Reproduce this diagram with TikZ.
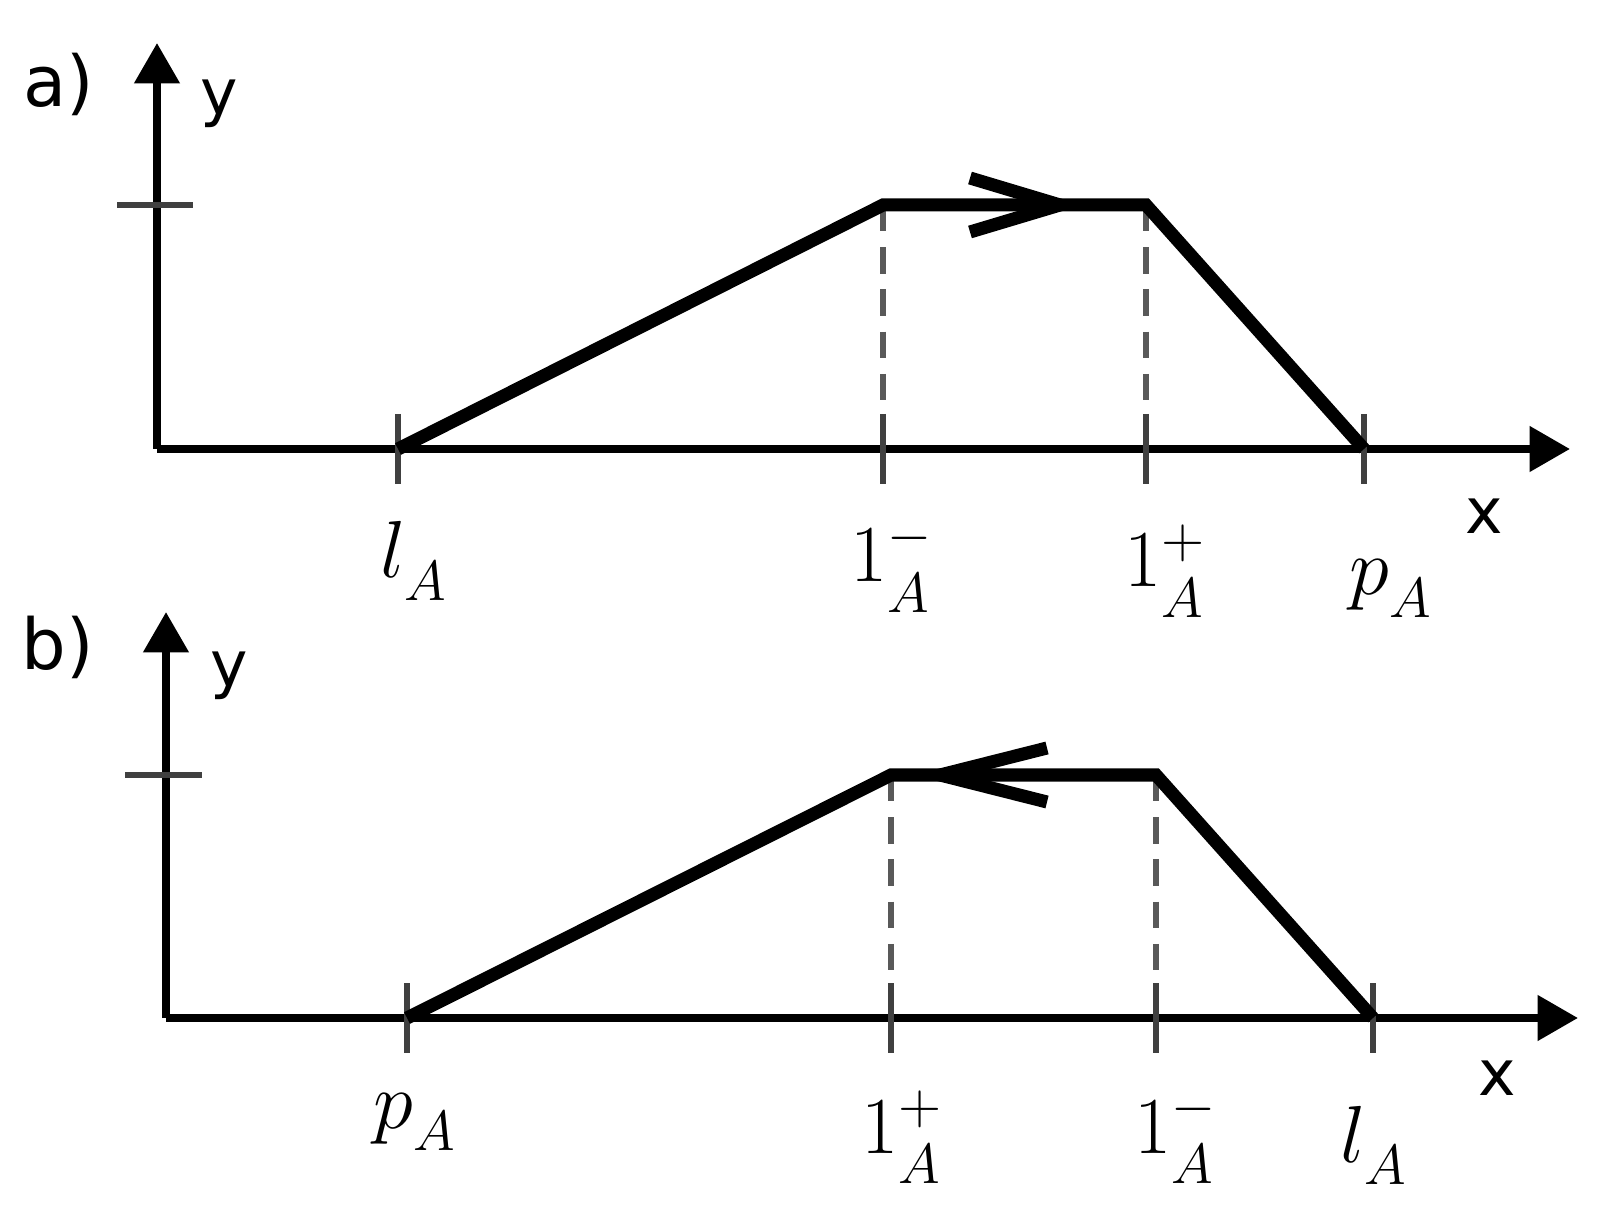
\RequirePackage{fix-cm}
\documentclass[tikz,border=0pt]{standalone}
\usepackage{fontspec}
\newfontfamily\axisfont{DejaVu Sans}
\usetikzlibrary{arrows.meta}

\newcommand{\subA}{_{\raisebox{-3pt}{$\scriptstyle A$}}}

\tikzset{
  axisline/.style={line width=2.3pt, -{Triangle[length=11.5pt, width=12.5pt]}},
  profile/.style={line width=3.7pt, line join=miter},
  tickmark/.style={line width=1.7pt, black!75},
  guide/.style={line width=1.5pt, black!65, dash pattern=on 7.5pt off 4.5pt},
  numlabel/.style={inner sep=0pt, anchor=base, font=\fontsize{23}{23}\selectfont},
  axislabel/.style={inner sep=0pt, anchor=base west, font=\fontsize{18}{18}\selectfont\axisfont},
  tag/.style={inner sep=0pt, anchor=base west, font=\fontsize{20}{20}\selectfont\axisfont},
}

\begin{document}
\begin{tikzpicture}[x=0.01cm, y=-0.01cm]
  \useasboundingbox (0,0) rectangle (1609,1213);

  % --------------------
  % Panel a
  % --------------------
  \coordinate (Oa) at (157,449);
  \coordinate (la) at (398,449);
  \coordinate (ma) at (883,205);
  \coordinate (na) at (1146,205);
  \coordinate (pa) at (1364,449);
  \coordinate (ha) at (1060,205);

  % axes and unit mark
  \draw[axisline] (Oa) -- (157,43);
  \draw[axisline] (Oa) -- (1570,449);
  \draw[tickmark] (117,205) -- (193,205);

  % guides and ticks
  \draw[guide] (ma) -- (ma |- Oa);
  \draw[guide] (na) -- (na |- Oa);
  \foreach \c in {la,ma,na,pa} {
    \draw[tickmark] (\c |- Oa) ++(0,-35) -- ++(0,70);
  }

  % trapezoid and direction
  \draw[profile] (la) -- (ma) -- (na) -- (pa);
  \draw[profile] (ha) ++(-90,-27) -- (ha) -- ++(-90,27);

  % labels
  \node[tag] (tagA) at (23,107) {a)};
  \node[axislabel] (yA) at (200,115) {y};
  \node[axislabel] (xA) at (1465,534) {x};
  \node[numlabel] (lA) at (414,578) {$l\subA$};
  \node[numlabel] (mA) at (892,582) {$1^{-}\subA$};
  \node[numlabel] (nA) at (1165,587) {$1^{+}\subA$};
  \node[numlabel] (pA) at (1391,595) {$p\subA$};

  % --------------------
  % Panel b
  % --------------------
  \coordinate (Ob) at (166,1018);
  \coordinate (pb) at (407,1018);
  \coordinate (mb) at (891,775);
  \coordinate (nb) at (1156,775);
  \coordinate (lb) at (1373,1018);
  \coordinate (hb) at (940,775);

  % axes and unit mark
  \draw[axisline] (Ob) -- (166,612);
  \draw[axisline] (Ob) -- (1578,1018);
  \draw[tickmark] (125,775) -- (202,775);

  % guides and ticks
  \draw[guide] (mb) -- (mb |- Ob);
  \draw[guide] (nb) -- (nb |- Ob);
  \foreach \c in {pb,mb,nb,lb} {
    \draw[tickmark] (\c |- Ob) ++(0,-35) -- ++(0,70);
  }

  % trapezoid and direction
  \draw[profile] (pb) -- (mb) -- (nb) -- (lb);
  \draw[profile] (hb) ++(107,-27) -- (hb) -- ++(107,27);

  % labels
  \node[tag] (tagB) at (21,670) {b)};
  \node[axislabel] (yB) at (210,687) {y};
  \node[axislabel] (xB) at (1478,1095) {x};
  \node[numlabel] (pB) at (415,1128) {$p\subA$};
  \node[numlabel] (mB) at (902,1153) {$1^{+}\subA$};
  \node[numlabel] (nB) at (1176,1153) {$1^{-}\subA$};
  \node[numlabel] (lB) at (1374,1162) {$l\subA$};

\end{tikzpicture}
\end{document}
